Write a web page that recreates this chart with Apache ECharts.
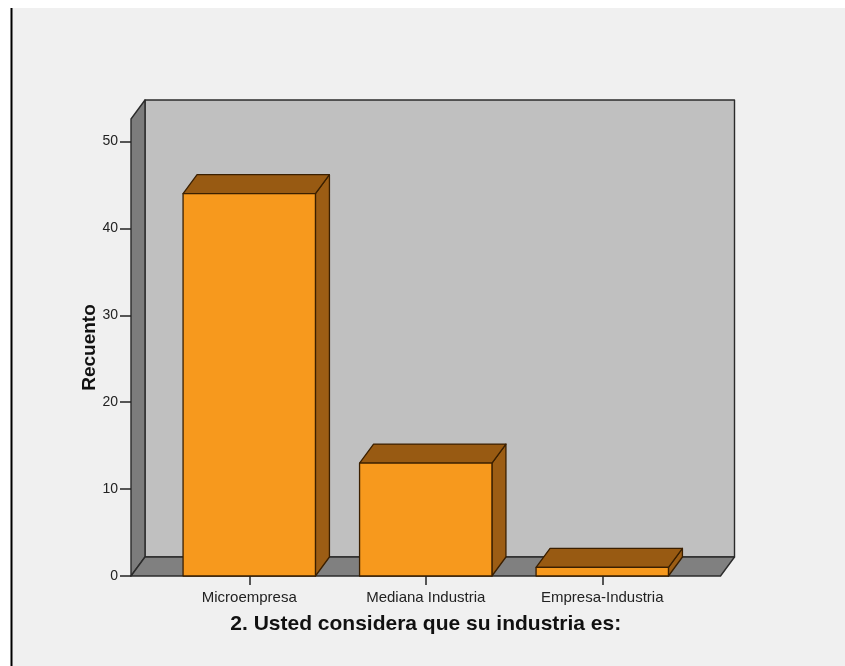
<!DOCTYPE html>
<html>
<head>
<meta charset="utf-8">
<title>Recuento por tipo de industria</title>
<script src="https://cdn.jsdelivr.net/npm/echarts@6/dist/echarts.min.js"></script>
<style>
  html, body { margin: 0; padding: 0; background: #ffffff; }
  #chart { width: 845px; height: 666px; }
</style>
</head>
<body>
<div id="chart"></div>
<script>
// Frequency table: question 2
const categories = ['Microempresa', 'Mediana Industria', 'Empresa-Industria'];
const counts = [44, 13, 1];
const yTicks = [0, 10, 20, 30, 40, 50];
const yTop = 52.6;          // top of the walls in count units

// 3D look: depth offset of the box (px)
const DX = 14, DY = -19;
const WALL_EXT = 0.67;      // how far the walls reach past the outer categories (in bands)
const BAR_FRAC = 0.75;      // bar width as a share of the band

const chart = echarts.init(document.getElementById('chart'), null, { renderer: 'canvas' });

function wallsItem(params, api) {
  const band = api.size([1, 0])[0];
  const p0 = api.coord([0, 0]);
  const pL = api.coord([categories.length - 1, 0]);
  const pt = api.coord([0, yTop]);
  const xl = p0[0] - WALL_EXT * band;
  const xr = pL[0] + WALL_EXT * band;
  const y0 = p0[1], yt = pt[1];
  const edge = { stroke: '#2b2b2b', lineWidth: 1.4, lineJoin: 'round' };
  return {
    type: 'group',
    children: [
      { type: 'polygon', shape: { points: [[xl + DX, y0 + DY], [xr + DX, y0 + DY], [xr + DX, yt + DY], [xl + DX, yt + DY]] },
        style: Object.assign({ fill: '#c0c0c0' }, edge) },
      { type: 'polygon', shape: { points: [[xl, y0], [xl + DX, y0 + DY], [xl + DX, yt + DY], [xl, yt]] },
        style: Object.assign({ fill: '#7c7c7c' }, edge) },
      { type: 'polygon', shape: { points: [[xl, y0], [xr, y0], [xr + DX, y0 + DY], [xl + DX, y0 + DY]] },
        style: Object.assign({ fill: '#808080' }, edge) }
    ]
  };
}

function barItem(params, api) {
  const idx = api.value(0);
  const val = api.value(1);
  const band = api.size([1, 0])[0];
  const w = band * BAR_FRAC;
  const base = api.coord([idx, 0]);
  const top = api.coord([idx, val]);
  const x1 = base[0] - w / 2, x2 = base[0] + w / 2;
  const y0 = base[1], y1 = top[1];
  const edge = { stroke: '#3a1f00', lineWidth: 1.3, lineJoin: 'round' };
  return {
    type: 'group',
    children: [
      { type: 'polygon', shape: { points: [[x2, y0], [x2 + DX, y0 + DY], [x2 + DX, y1 + DY], [x2, y1]] },
        style: Object.assign({ fill: '#9c5d14' }, edge) },
      { type: 'polygon', shape: { points: [[x1, y1], [x2, y1], [x2 + DX, y1 + DY], [x1 + DX, y1 + DY]] },
        style: Object.assign({ fill: '#985a12' }, edge) },
      { type: 'rect', shape: { x: x1, y: y1, width: w, height: y0 - y1 },
        style: Object.assign({ fill: '#f7991d' }, edge) }
    ]
  };
}

const option = {
  backgroundColor: '#ffffff',
  animation: false,
  textStyle: { fontFamily: 'Liberation Sans, Arial, sans-serif' },
  graphic: [
    { type: 'rect', z: -10, silent: true, shape: { x: 12, y: 8, width: 845, height: 666 }, style: { fill: '#f0f0f0' } },
    { type: 'line', z: -9, silent: true, shape: { x1: 11.5, y1: 8, x2: 11.5, y2: 666 }, style: { stroke: '#000000', lineWidth: 2 } }
  ],
  grid: { left: 161, right: 154.5, top: 119, bottom: 90 },
  xAxis: {
    type: 'category',
    data: categories,
    boundaryGap: true,
    axisLine: { show: false },
    axisTick: { show: true, alignWithLabel: true, length: 9, lineStyle: { color: '#222', width: 1.5 } },
    axisLabel: { margin: 14, fontSize: 15, color: '#222' },
    name: '2. Usted considera que su industria es:',
    nameLocation: 'middle',
    nameGap: 38,
    nameTextStyle: { fontSize: 21, fontWeight: 'bold', color: '#111' },
    z: 10
  },
  yAxis: {
    type: 'value',
    min: 0,
    max: yTop,
    offset: 30,
    axisLine: { show: false },
    splitLine: { show: false },
    axisTick: { show: true, length: 11, customValues: yTicks, lineStyle: { color: '#222', width: 1.5 } },
    axisLabel: { margin: 13, fontSize: 14, color: '#222', customValues: yTicks },
    name: 'Recuento',
    nameLocation: 'middle',
    nameGap: 32,
    nameMoveOverlap: false,
    nameRotate: 90,
    nameTextStyle: { fontSize: 19, fontWeight: 'bold', color: '#111' },
    z: 10
  },
  series: [
    {
      type: 'custom',
      name: 'paredes',
      renderItem: wallsItem,
      data: [[0, 0]],
      silent: true,
      clip: false,
      z: 1
    },
    {
      type: 'custom',
      name: 'Recuento',
      renderItem: barItem,
      data: counts.map((v, i) => [i, v]),
      encode: { x: 0, y: 1 },
      clip: false,
      z: 2
    }
  ]
};

chart.setOption(option);
</script>
</body>
</html>
